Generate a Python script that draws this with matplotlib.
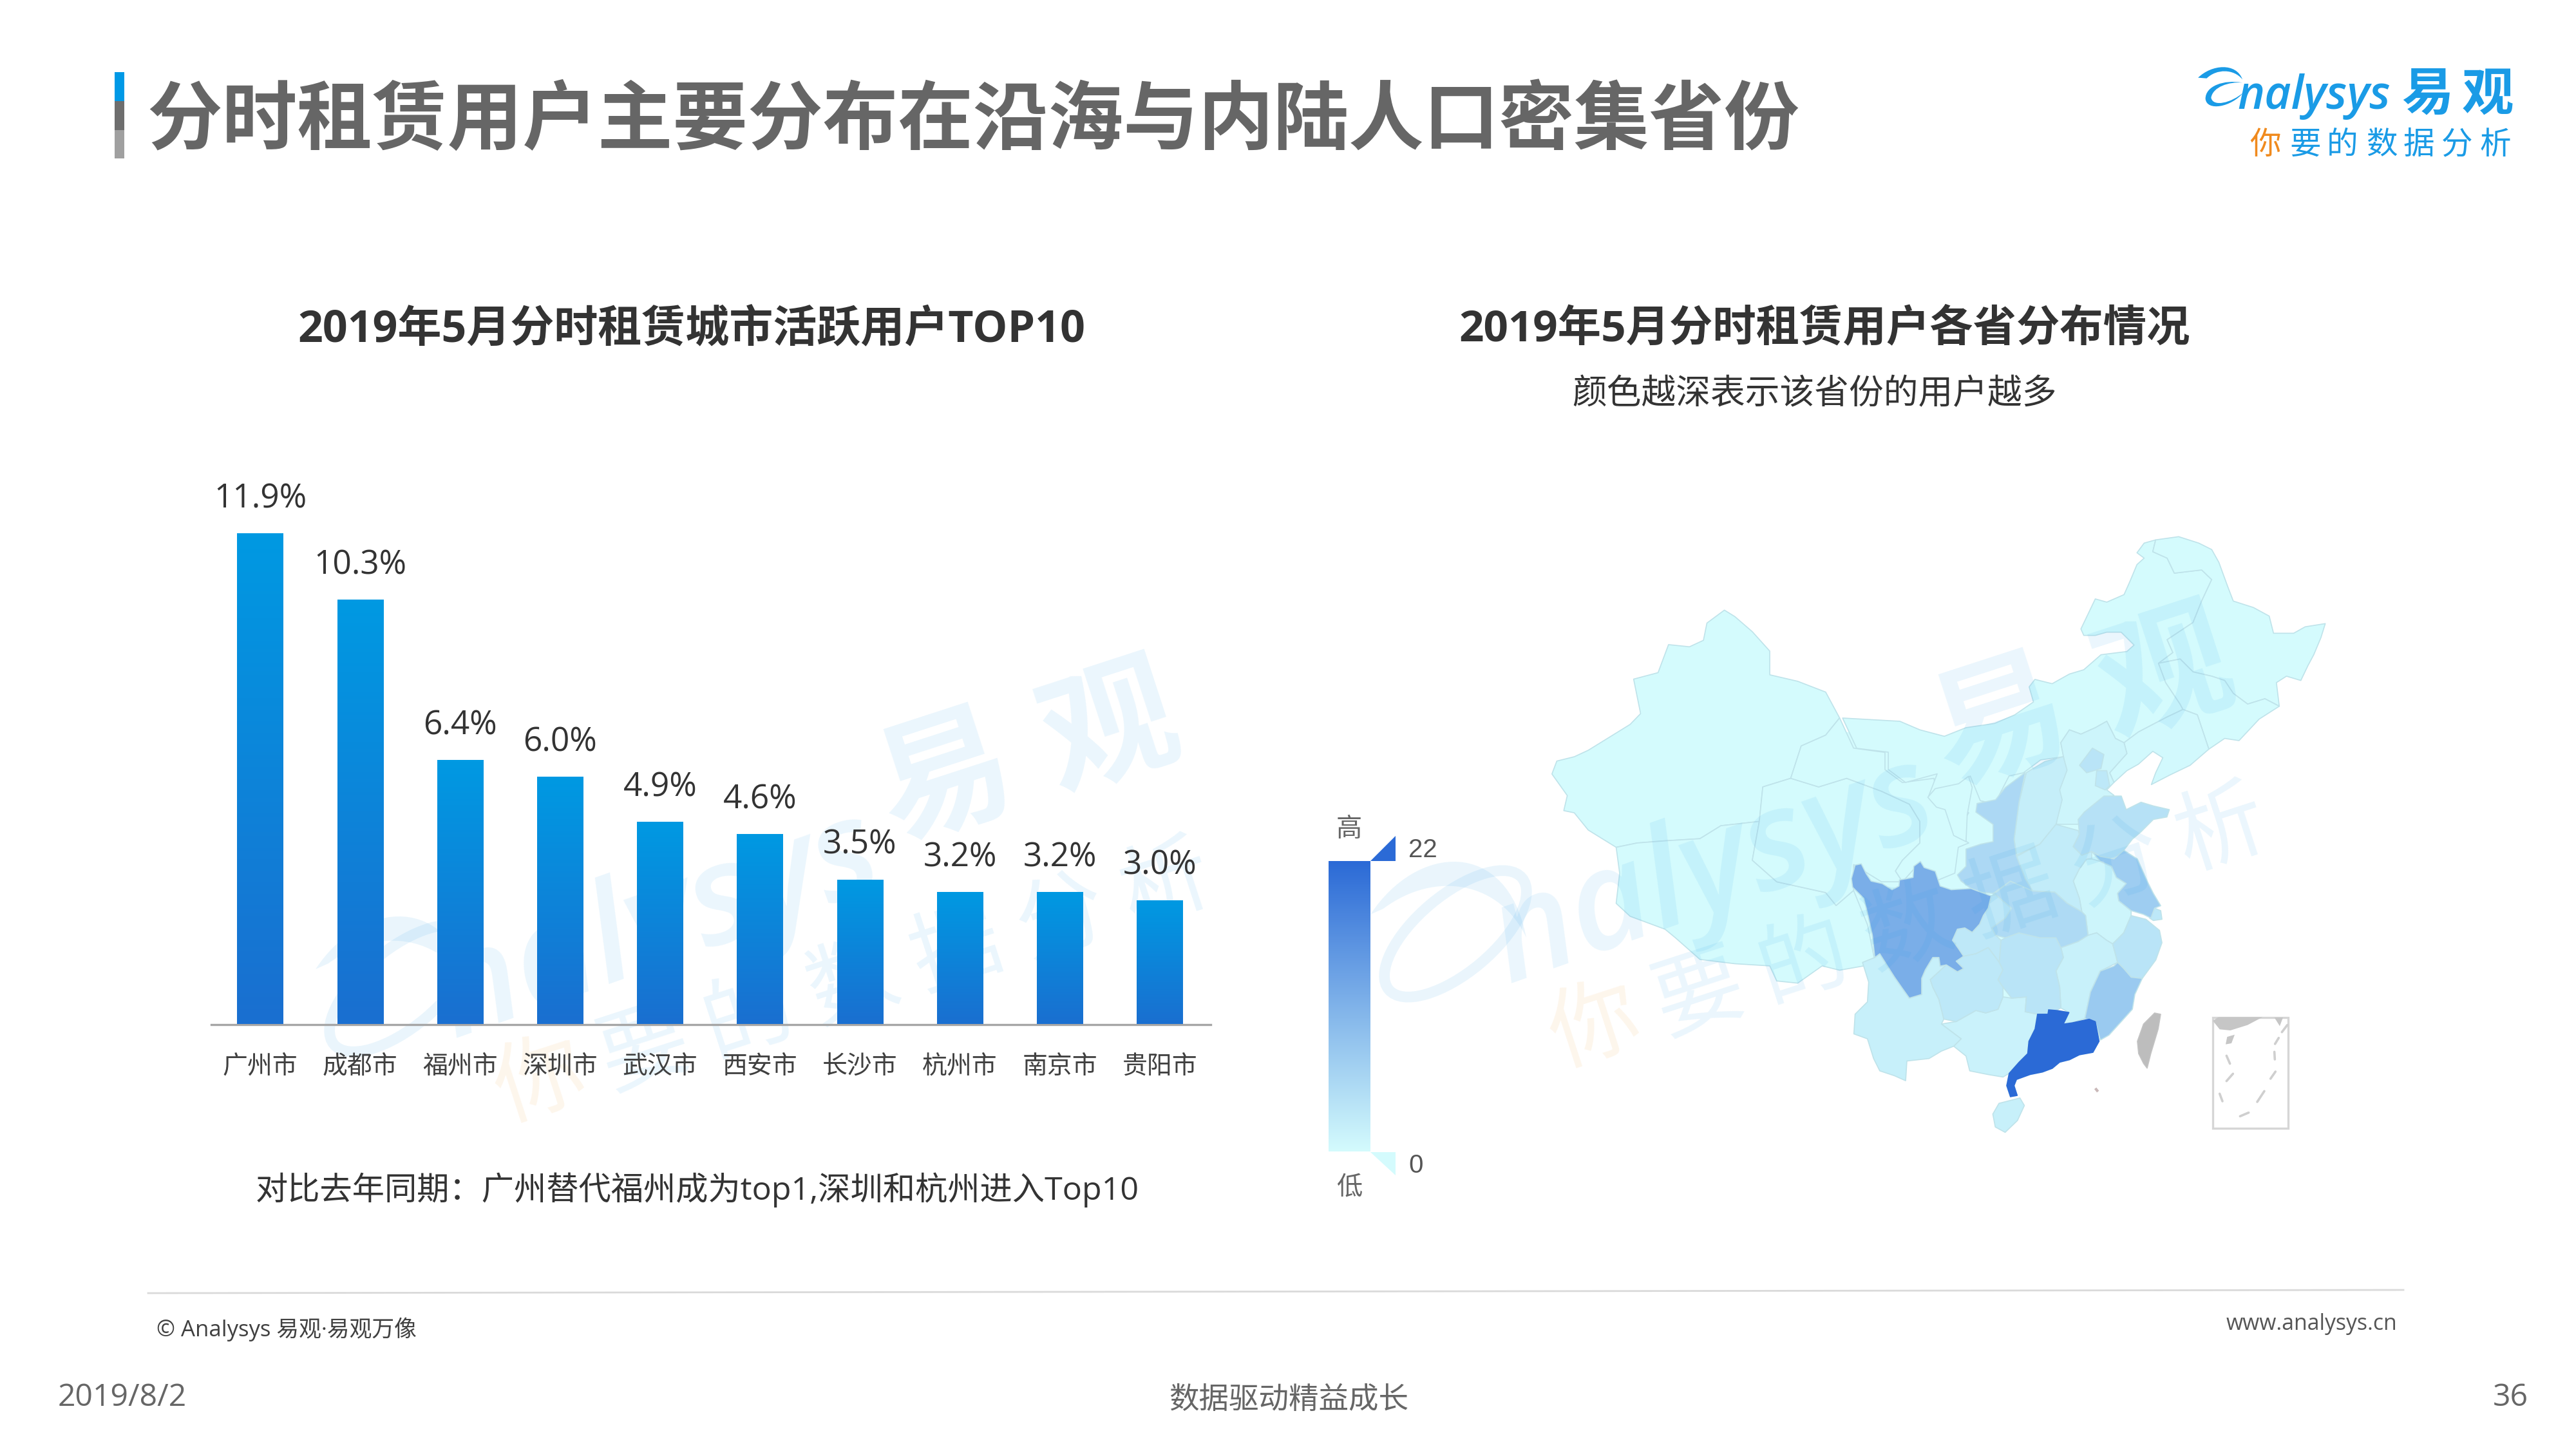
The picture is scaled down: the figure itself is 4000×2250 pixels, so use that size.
import numpy as np
import matplotlib
matplotlib.use('Agg')
import matplotlib.pyplot as plt
from matplotlib.colors import LinearSegmentedColormap, Normalize
from matplotlib.patches import Polygon, PathPatch, Ellipse, Rectangle
from matplotlib.path import Path

CJK = ['Open Sans', 'Noto Sans CJK SC', 'DejaVu Sans']
CJK_ONLY = ['Noto Sans CJK SC', 'DejaVu Sans']
plt.rcParams['font.family'] = CJK

title = '分时租赁用户主要分布在沿海与内陆人口密集省份'
left_title = '2019年5月分时租赁城市活跃用户TOP10'
right_title = '2019年5月分时租赁用户各省分布情况'
right_sub = '颜色越深表示该省份的用户越多'
note = '对比去年同期：广州替代福州成为top1,深圳和杭州进入Top10'

cities = ['广州市', '成都市', '福州市', '深圳市', '武汉市', '西安市', '长沙市', '杭州市', '南京市', '贵阳市']
shares = [11.9, 10.3, 6.4, 6.0, 4.9, 4.6, 3.5, 3.2, 3.2, 3.0]

# estimated from the map colours, the legend only gives 0 and 22
prov_names = ['新疆', '西藏', '青海', '甘肃', '内蒙古', '黑龙江', '吉林', '辽宁', '河北', '宁夏',
              '山西', '陕西', '河南', '山东', '江苏', '上海', '安徽', '湖北', '重庆', '四川',
              '湖南', '江西', '浙江', '福建', '贵州', '云南', '广西', '广东', '海南', '北京', '天津']
prov_values = [0, 0, 0, 0, 0, 0, 0, 0.3, 1, 0,
               2, 5.3, 2.4, 4, 7, 3, 0.9, 5, 2.9, 11.7,
               3.6, 1.6, 3.6, 7.5, 3, 1.8, 1.3, 22, 1.8, 3.6, 3]
legend_min = 0
legend_max = 22

W, H = 4000, 2250
fig = plt.figure(figsize=(40, 22.5), dpi=100, facecolor='white')
bg = fig.add_axes([0, 0, 1, 1], zorder=0)
bg.set_xlim(0, W)
bg.set_ylim(H, 0)
bg.axis('off')


def px(pts, ox, oy, sx, sy):
    return [(ox + sx * x, oy + sy * y) for x, y in pts]


# outlines, in the crops they were read from
def z1(pts):
    return px(pts, 2000, 780, 1.0842, 0.6696)


def z7(pts):
    return px(pts, 2850, 1150, 0.3827, 0.3827)


def z8(pts):
    return px(pts, 2950, 800, 0.4464, 0.3333)


def z9(pts):
    return px(pts, 2750, 1300, 0.3827, 0.3333)


outlines = {
    '新疆': z1([(378,630),(385,600),(410,590),(430,575),(460,545),(490,515),(505,490),(495,410),(530,395),(545,330),(575,335),(595,320),(600,280),(625,250),(640,265),(665,300),(690,345),(690,400),(730,415),(770,440),(790,500),(770,540),(735,565),(720,640),(680,660),(675,740),(620,750),(590,780),(540,785),(500,790),(470,800),(430,760),(410,720),(395,715),(400,680)]),
    '西藏': z1([(470,800),(500,790),(540,785),(590,780),(620,750),(675,740),(665,830),(700,880),(770,905),(785,935),(810,900),(830,980),(840,1060),(825,1075),(790,1085),(765,1075),(730,1115),(700,1110),(690,1075),(640,1070),(590,1060),(555,1010),(540,990),(490,960),(470,930),(475,860)]),
    '青海': z1([(680,660),(720,640),(760,660),(800,640),(850,670),(890,700),(905,740),(905,790),(880,830),(870,855),(880,880),(850,880),(810,840),(810,900),(785,935),(770,905),(700,880),(665,830),(675,740)]),
    '甘肃': z1([(790,500),(810,570),(855,580),(855,620),(880,650),(925,640),(930,680),(960,710),(975,720),(955,770),(975,790),(960,800),(955,860),(925,880),(905,835),(880,880),(870,855),(880,830),(905,790),(905,740),(890,700),(850,670),(800,640),(760,660),(720,640),(735,565),(770,540)]),
    '内蒙古': z8([(-199,945),(0,960),(70,1000),(155,1030),(230,990),(330,970),(400,930),(465,870),(450,800),(470,765),(530,785),(590,740),(640,720),(700,650),(790,635),(815,605),(770,545),(720,545),(680,560),(640,560),(630,530),(680,390),(720,405),(780,370),(800,310),(825,230),(850,200),(825,175),(850,130),(890,115),(880,170),(930,200),(955,270),(1050,255),(1085,300),(1050,400),(1020,500),(930,580),(950,640),(900,690),(925,780),(975,880),(985,905),(930,940),(830,1010),(780,1060),(750,1040),(720,960),(680,990),(630,1020),(590,1000),(560,1060),(570,1125),(490,1140),(430,1200),(380,1215),(330,1345),(280,1330),(245,1215),(205,1270),(150,1360),(100,1310),(130,1205),(20,1245),(-40,1185),(-40,1104),(-150,1086)]),
    '黑龙江': z8([(890,115),(970,100),(1040,130),(1085,160),(1110,220),(1140,330),(1160,400),(1230,430),(1285,470),(1300,550),(1370,550),(1410,520),(1480,505),(1465,570),(1440,650),(1420,700),(1395,770),(1345,750),(1310,780),(1320,890),(1270,855),(1210,880),(1160,830),(1130,770),(1085,750),(1020,730),(975,670),(900,690),(950,640),(930,580),(1020,500),(1050,400),(1085,300),(1050,255),(955,270),(930,200),(880,170)]),
    '吉林': z8([(1020,730),(1085,750),(1130,770),(1160,830),(1210,880),(1270,855),(1320,890),(1250,950),(1180,1050),(1130,1040),(1075,1090),(1035,930),(985,905),(975,880),(925,780),(900,690),(975,670)]),
    '辽宁': z8([(780,1060),(830,1010),(930,940),(985,905),(1035,930),(1075,1090),(1010,1165),(940,1210),(875,1255),(890,1200),(915,1130),(880,1100),(830,1160),(790,1190),(745,1245),(730,1200),(790,1110)]),
    '河北': z8([(560,1060),(590,1000),(630,1020),(680,990),(720,960),(750,1040),(780,1060),(790,1110),(730,1200),(745,1245),(720,1280),(745,1305),(660,1370),(620,1440),(545,1440),(550,1300),(570,1130)]),
    '宁夏': z7([(540,145),(555,190),(535,300),(530,410),(480,385),(445,280),(410,270),(375,230),(405,195),(500,175)]),
    '山西': z7([(775,130),(850,85),(925,65),(940,120),(910,200),(920,240),(895,340),(830,420),(735,465),(725,400),(745,250)]),
    '陕西': z7([(770,130),(745,250),(725,400),(735,470),(770,560),(800,610),(710,570),(640,620),(590,615),(550,600),(510,570),(495,545),(530,510),(530,440),(590,420),(640,410),(640,340),(570,290),(575,255),(650,240),(690,190)]),
    '河南': z7([(895,340),(985,365),(990,380),(965,430),(1000,465),(1040,450),(1040,480),(1020,480),(990,520),(965,570),(990,640),(1000,695),(940,660),(890,615),(800,610),(770,560),(735,470),(830,420)]),
    '山东': z7([(1010,290),(1090,225),(1160,225),(1180,280),(1240,250),(1290,265),(1355,280),(1345,310),(1290,320),(1240,370),(1205,400),(1170,445),(1130,480),(1075,470),(1040,450),(1000,465),(965,430),(990,380),(985,320)]),
    '江苏': z7([(1040,450),(1075,470),(1130,480),(1170,445),(1225,480),(1265,570),(1290,620),(1320,670),(1295,680),(1280,720),(1250,705),(1200,690),(1150,650),(1145,620),(1180,580),(1140,555),(1120,510),(1075,490)]),
    '上海': z7([(1295,680),(1320,690),(1325,725),(1290,730),(1275,720)]),
    '安徽': z7([(1040,480),(1075,490),(1120,510),(1140,555),(1180,580),(1145,620),(1150,650),(1200,690),(1200,710),(1170,780),(1125,825),(1100,810),(1060,780),(1025,790),(1015,710),(1000,695),(990,640),(965,570),(990,520),(1020,480)]),
    '湖北': z7([(640,625),(710,570),(800,610),(890,615),(940,660),(1000,695),(1015,710),(1025,790),(985,815),(915,840),(895,800),(830,800),(745,780),(690,800),(650,790),(635,760),(690,720),(715,680),(650,625)]),
    '重庆': z7([(632,630),(650,625),(715,680),(690,720),(635,760),(650,790),(672,810),(665,900),(620,840),(570,865),(520,875),(475,810),(495,765),(525,760),(555,778),(585,745),(600,710),(620,680)]),
    '四川': z7([(80,505),(105,500),(125,540),(145,570),(190,580),(230,605),(258,590),(260,565),(290,560),(315,555),(318,510),(345,490),(360,515),(405,530),(425,590),(470,605),(550,600),(590,615),(632,630),(620,680),(600,710),(585,745),(555,778),(525,760),(495,765),(475,810),(500,845),(520,875),(490,895),(520,925),(495,938),(450,910),(425,915),(420,880),(395,880),(365,930),(350,965),(350,1030),(300,1045),(275,1010),(240,960),(205,905),(180,865),(160,880),(150,790),(130,700),(115,640),(70,595),(65,560)]),
    '湖南': z7([(672,810),(690,800),(745,780),(830,800),(895,800),(915,840),(925,880),(895,935),(910,1000),(915,1085),(862,1110),(820,1110),(770,1100),(775,1040),(715,1045),(680,1000),(660,970),(680,930),(665,900)]),
    '江西': z7([(915,840),(985,815),(1025,790),(1060,780),(1100,810),(1125,825),(1140,880),(1145,900),(1075,935),(1035,1020),(1012,1128),(960,1145),(925,1150),(948,1103),(915,1085),(910,1000),(895,935),(925,880)]),
    '浙江': z7([(1200,710),(1260,725),(1315,770),(1325,820),(1300,890),(1245,965),(1200,960),(1170,925),(1145,900),(1140,880),(1125,825),(1170,780)]),
    '福建': z7([(1145,900),(1170,925),(1200,960),(1245,965),(1215,1030),(1205,1090),(1160,1140),(1110,1195),(1075,1215),(1055,1140),(1012,1128),(1035,1020),(1075,935),(1130,915)]),
    '贵州': z7([(385,970),(450,910),(495,938),(520,925),(490,895),(520,875),(570,865),(620,840),(665,900),(680,930),(660,970),(680,1000),(680,1040),(660,1090),(610,1105),(570,1095),(490,1140),(440,1130),(420,1050),(395,1000)]),
    '云南': z7([(180,865),(205,905),(240,960),(275,1010),(300,1045),(350,1030),(350,965),(365,930),(395,880),(420,880),(425,915),(450,910),(385,970),(395,1000),(420,1050),(440,1130),(430,1150),(510,1210),(480,1240),(430,1260),(380,1290),(290,1300),(285,1380),(240,1360),(180,1340),(155,1290),(130,1210),(75,1190),(80,1110),(130,1060),(135,980),(110,900),(160,880)]),
    '广西': z7([(430,1150),(490,1140),(570,1095),(610,1105),(660,1090),(680,1040),(715,1045),(775,1040),(770,1100),(820,1110),(810,1170),(785,1220),(780,1270),(745,1305),(705,1350),(680,1365),(620,1355),(545,1340),(530,1280),(480,1240),(510,1210)]),
    '广东': z7([(820,1110),(862,1110),(865,1092),(900,1095),(948,1103),(935,1130),(925,1150),(960,1145),(1030,1130),(1055,1140),(1070,1220),(1045,1265),(990,1275),(950,1295),(910,1305),(880,1330),(840,1345),(790,1355),(735,1375),(725,1400),(738,1440),(710,1445),(695,1400),(705,1350),(745,1305),(780,1270),(785,1220),(810,1170)]),
    '海南': z9([(900,1290),(925,1240),(1010,1215),(1028,1250),(1000,1320),(950,1375),(910,1350)]),
    '北京': z8([(625,1165),(670,1085),(710,1115),(700,1180),(650,1200)]),
    '天津': z8([(685,1190),(720,1190),(730,1260),(715,1280),(680,1260)]),
}
taiwan = z7([(1295,1105),(1320,1110),(1310,1170),(1280,1270),(1265,1330),(1250,1310),(1230,1270),(1225,1220),(1250,1150)])
interior = z1([(520,600),(790,530),(1040,590),(1140,680),(1200,900),(1130,1150),(950,1150),(840,1040),(600,1000),(520,800)])

LOW = '#D4FBFD'
HIGH = '#2B6AD6'
cmap = LinearSegmentedColormap.from_list('map', [LOW, HIGH])
norm = Normalize(legend_min, legend_max)


def watermark(dx, dy, z):
    # tilted copy of the logo
    blue = '#1E9BE8'
    a = 0.09
    bg.text(3106 + dx, 1127 + dy, '易', fontsize=150, fontweight='bold', color=blue, alpha=a,
            rotation=18, ha='center', va='center', family=CJK_ONLY, zorder=z)
    bg.text(3362 + dx, 1051 + dy, '观', fontsize=150, fontweight='bold', color=blue, alpha=a,
            rotation=18, ha='center', va='center', family=CJK_ONLY, zorder=z)
    bg.text(2660 + dx, 1355 + dy, 'nalysys', fontsize=155, style='italic', fontweight='semibold', color=blue, alpha=a,
            rotation=19.5, ha='center', va='center', zorder=z)
    bg.add_patch(Ellipse((2260 + dx, 1450 + dy), 270, 120, angle=-40, fill=False, ec=blue, lw=12, alpha=a, zorder=z))
    arc = Path([(2128 + dx, 1420 + dy), (2200 + dx, 1310 + dy), (2340 + dx, 1300 + dy), (2370 + dx, 1456 + dy),
                (2330 + dx, 1370 + dy), (2230 + dx, 1350 + dy), (2148 + dx, 1411 + dy), (2128 + dx, 1420 + dy)],
               [Path.MOVETO] + [Path.CURVE4] * 6 + [Path.CLOSEPOLY])
    bg.add_patch(PathPatch(arc, fc=blue, ec='none', alpha=a, zorder=z))
    for i, ch in enumerate('你要的数据分析'):
        col = '#F39A2D' if i == 0 else blue
        bg.text(2477 + dx + 162 * i, 1597 + dy - 51 * i, ch, fontsize=100, color=col, alpha=a,
                rotation=18, ha='center', va='center', family=CJK_ONLY, zorder=z)


watermark(-1638, 85, 1)
watermark(0, 0, 8)

bg.add_patch(Polygon(interior, fc=LOW, ec='none', zorder=2))
order = sorted(range(len(prov_names)), key=lambda i: prov_values[i])
for i in order:
    name = prov_names[i]
    bg.add_patch(Polygon(outlines[name], closed=True, fc=cmap(norm(prov_values[i])),
                         ec='#BFE3EA', lw=1.2, joinstyle='round', zorder=3))
bg.add_patch(Polygon(outlines['广东'], fc=cmap(norm(22)), ec=cmap(norm(22)), lw=1, zorder=4))
bg.add_patch(Polygon(taiwan, fc='#BDBDBD', ec='#C4C4C4', lw=1, zorder=3))

# south china sea inset
def z10(pts):
    return px(pts, 3350, 1560, 1 / 3, 1 / 3)


(bx0, by0), (bx1, by1) = z10([(258, 60), (610, 575)])
bg.add_patch(Rectangle((bx0, by0), bx1 - bx0, by1 - by0, fc='none', ec='#D6D6D6', lw=2.4, zorder=3))
bg.add_patch(Polygon(z10([(258,75),(285,58),(490,58),(420,95),(340,120),(290,115)]), fc='#C6C6C6', ec='none', zorder=3))
bg.add_patch(Polygon(z10([(545,60),(585,60),(570,100)]), fc='#C6C6C6', ec='none', zorder=3))
bg.add_patch(Polygon(z10([(325,150),(360,140),(345,180),(318,185)]), fc='#C6C6C6', ec='none', zorder=3))
dashes = [[(322,238),(338,275)], [(352,322),(322,356)], [(290,415),(303,450)], [(605,95),(580,128)],
          [(565,155),(548,183)], [(545,220),(547,255)], [(550,312),(527,345)], [(498,403),(465,453)], [(425,503),(385,520)]]
for d in dashes:
    xs, ys = zip(*z10(d))
    bg.plot(xs, ys, color='#CFCFCF', lw=2.6, solid_capstyle='round', zorder=3)
xs, ys = zip(*z7([(1058, 1415), (1062, 1420)]))
bg.plot(xs, ys, color='#C9B8B8', lw=3, zorder=3)

# visual map legend
grad = np.linspace(0, 1, 256)[::-1].reshape(-1, 1)
bg.imshow(grad, cmap=cmap, extent=(2063, 2128, 1788, 1337), aspect='auto', zorder=3)
bg.set_xlim(0, W)
bg.set_ylim(H, 0)
bg.add_patch(Polygon([(2128, 1337), (2167, 1337), (2167, 1298)], fc=HIGH, ec='none', zorder=3))
bg.add_patch(Polygon([(2128, 1789), (2167, 1789), (2167, 1825)], fc=LOW, ec='none', zorder=3))
bg.text(2187, 1320, str(legend_max), fontsize=29, color='#555555', va='center', ha='left', family='Liberation Sans', zorder=9)
bg.text(2187, 1810, str(legend_min), fontsize=29, color='#555555', va='center', ha='left', family='Liberation Sans', zorder=9)
bg.text(2095, 1288, '高', fontsize=29, color='#666666', ha='center', va='center', family=CJK_ONLY, zorder=9)
bg.text(2095, 1843, '低', fontsize=29, color='#666666', ha='center', va='center', family=CJK_ONLY, zorder=9)

# header
bg.add_patch(Rectangle((178, 112), 15, 45, fc='#0099E6', ec='none'))
bg.add_patch(Rectangle((178, 157), 15, 45, fc='#6E6E6E', ec='none'))
bg.add_patch(Rectangle((178, 202), 15, 44, fc='#A0A0A0', ec='none'))
bg.text(228, 190, title, fontsize=84, fontweight='bold', color='#666666', va='center', ha='left', family=CJK_ONLY)
bg.text(1074, 512, left_title, fontsize=49, fontweight='bold', color='#333333', ha='center', va='center')
bg.text(2833, 512, right_title, fontsize=48.5, fontweight='bold', color='#333333', ha='center', va='center')
bg.text(2818, 613, right_sub, fontsize=38.7, color='#333333', ha='center', va='center')
bg.text(1083, 1848, note, fontsize=36.2, color='#333333', ha='center', va='center')

# logo, top right
def z2(pts):
    return px(pts, 3350, 60, 0.3827, 0.3333)


logo_blue = '#1A9BE6'
codes = [Path.MOVETO, Path.CURVE4, Path.CURVE4, Path.CURVE4, Path.CURVE4, Path.CURVE4, Path.CURVE4, Path.CLOSEPOLY]
top = z2([(165,182),(220,120),(320,110),(345,190),(310,140),(240,140),(200,185),(165,182)])
ring = z2([(345,205),(270,190),(195,220),(195,280),(200,340),(300,320),(350,250)])
ring_in = z2([(300,300),(225,320),(218,275),(225,225),(290,200),(345,205),(345,205)])
bg.add_patch(PathPatch(Path(top, codes), fc=logo_blue, ec='none'))
bg.add_patch(PathPatch(Path(ring + ring_in, [Path.MOVETO] + [Path.CURVE4] * 12 + [Path.CLOSEPOLY]), fc=logo_blue, ec='none'))
bg.text(3474, 150, 'nalysys', fontsize=51.5, style='italic', fontweight='semibold', color=logo_blue, ha='left', va='center', family='Open Sans')
bg.text(3769, 147, '易', fontsize=58, fontweight='bold', color=logo_blue, ha='center', va='center', family=CJK_ONLY)
bg.text(3863, 147, '观', fontsize=58, fontweight='bold', color=logo_blue, ha='center', va='center', family=CJK_ONLY)
for x, ch in zip([437, 600, 750, 910, 1060, 1215, 1370], '你要的数据分析'):
    bg.text(3350 + 0.3827 * x, 225, ch, fontsize=35, color='#F08A1D' if ch == '你' else logo_blue,
            ha='center', va='center', family=CJK_ONLY)

# footer
bg.plot([230, 3732], [2008, 2003], color='#DADADA', lw=2)
bg.text(243, 2064, '© Analysys 易观·易观万像', fontsize=25, color='#404040', ha='left', va='center')
bg.text(3722, 2056, 'www.analysys.cn', fontsize=24.3, color='#555555', ha='right', va='center')
bg.text(90, 2170, '2019/8/2', fontsize=34.7, color='#666666', ha='left', va='center')
bg.text(2001, 2174, '数据驱动精益成长', fontsize=33.5, color='#666666', ha='center', va='center')
bg.text(3926, 2170, '36', fontsize=34.7, color='#666666', ha='right', va='center')

# bar chart
ax = fig.add_axes([328 / W, 1 - 1590.5 / H, (1880 - 328) / W, 820 / H], zorder=2)
ax.patch.set_alpha(0)
bars = ax.bar(range(len(cities)), shares, width=0.46, color='#0F85DA', zorder=2)
grad_bar = LinearSegmentedColormap.from_list('bar', ['#1A6FD0', '#0099E2'])
for b, v in zip(bars, shares):
    im = ax.imshow(np.linspace(1, 0, 128).reshape(-1, 1), cmap=grad_bar, aspect='auto', zorder=3,
                   extent=(b.get_x(), b.get_x() + b.get_width(), 0, v))
    ax.annotate('%.1f%%' % v, (b.get_x() + b.get_width() / 2, v), xytext=(0, 39), textcoords='offset points',
                ha='center', va='center', fontsize=37, color='#333333')
ax.set_xlim(-0.49, 9.51)
ax.set_ylim(0, 12.82)
ax.set_xticks(range(len(cities)))
ax.set_xticklabels(cities, fontsize=28, color='#404040')
ax.set_yticks([])
ax.tick_params(axis='x', length=0, pad=34)
for s in ['top', 'left', 'right']:
    ax.spines[s].set_visible(False)
ax.spines['bottom'].set_color('#A6A6A6')
ax.spines['bottom'].set_linewidth(2.4)

fig.savefig('out.png', dpi=100)
